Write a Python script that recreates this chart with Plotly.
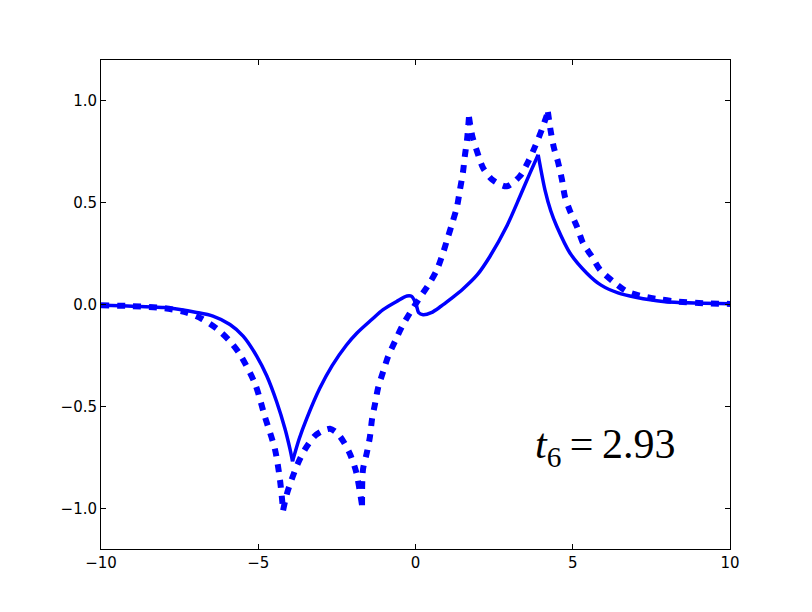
import plotly.graph_objects as go

# Solid curve
solid_x = [-10, -9, -8, -7.49, -7.0, -6.44, -5.9, -5.48, -5.05, -4.73, -4.41, -4.15, -3.99, -3.91,
           -3.7, -3.46, -3.04, -2.65, -2.2, -1.86, -1.4, -1.03, -0.6, -0.27, -0.12, 0.02,
           0.1, 0.24, 0.5, 0.8, 1.1, 1.5, 1.96, 2.37, 2.9, 3.32, 3.64, 3.9,
           4.12, 4.3, 4.49, 4.91, 5.44, 5.9, 6.44, 7.0, 7.87, 9.0, 10]
solid_y = [-0.004, -0.008, -0.015, -0.025, -0.038, -0.057, -0.098, -0.155, -0.253, -0.35, -0.48, -0.61, -0.71, -0.77,
           -0.66, -0.56, -0.41, -0.30, -0.20, -0.14, -0.075, -0.025, 0.015, 0.042, 0.04, 0.0,
           -0.04, -0.05, -0.04, -0.01, 0.025, 0.075, 0.145, 0.237, 0.384, 0.53, 0.645, 0.735,
           0.56, 0.46, 0.384, 0.253, 0.155, 0.095, 0.057, 0.036, 0.015, 0.007, 0.004]
solid_cusps = [-3.91, 3.9]

# Dotted curve
dot_x = [-10, -9, -8, -7.27, -6.8, -6.31, -5.9, -5.58, -5.1, -4.79, -4.47, -4.31, -4.21,
         -4.09, -3.94, -3.74, -3.51, -3.2, -2.95, -2.72, -2.5, -2.3, -2.08, -1.89, -1.70,
         -1.67, -1.55, -1.45, -1.38, -1.29, -1.19, -1.03, -0.87, -0.65, -0.43, -0.17, 0.14,
         0.46, 0.68, 0.87, 1.03, 1.19, 1.32, 1.41, 1.51, 1.57, 1.64, 1.70, 1.80, 1.96, 2.15,
         2.46, 2.9, 3.32, 3.58, 3.8, 4.02, 4.21, 4.3, 4.4, 4.53, 4.66, 4.75, 4.91, 5.14, 5.33,
         5.61, 5.87, 6.28, 6.72, 7.23, 7.77, 8.3, 9.36, 10]
dot_y = [-0.004, -0.008, -0.018, -0.04, -0.07, -0.12, -0.18, -0.245, -0.39, -0.55, -0.71, -0.86, -1.01,
         -0.93, -0.86, -0.78, -0.71, -0.645, -0.62, -0.61, -0.63, -0.67, -0.735, -0.82, -0.985,
         -0.81, -0.73, -0.65, -0.56, -0.49, -0.41, -0.33, -0.255, -0.18, -0.108, -0.04, 0.034,
         0.108, 0.17, 0.25, 0.33, 0.41, 0.48, 0.56, 0.65, 0.73, 0.81, 0.92, 0.83, 0.75, 0.67,
         0.61, 0.58, 0.63, 0.70, 0.775, 0.86, 0.945, 0.85, 0.77, 0.70, 0.61, 0.53, 0.46, 0.38, 0.30,
         0.235, 0.17, 0.113, 0.064, 0.04, 0.025, 0.015, 0.005, 0.003]
dot_cusps = [-4.21, -1.70, 1.70, 4.21]

x_ticks = [-10, -5, 0, 5, 10]
y_ticks = [-1.0, -0.5, 0.0, 0.5, 1.0]
label_text = "<i>t</i><sub>6</sub>\u2009=\u20092.93"
label_x, label_y = 6.01, -0.70


def segments(xs, ys, cusps):
    """Split a series at its cusp points (cusp point shared by both sides)."""
    segs, cur_x, cur_y = [], [], []
    for x, y in zip(xs, ys):
        cur_x.append(x)
        cur_y.append(y)
        if x in cusps:
            segs.append((cur_x, cur_y))
            cur_x, cur_y = [x], [y]
    segs.append((cur_x, cur_y))
    return segs


fig = go.Figure()
for sx, sy in segments(dot_x, dot_y, dot_cusps):
    fig.add_trace(go.Scatter(x=sx, y=sy, mode="lines",
                             line=dict(color="#0000ff", width=6, dash="8px,8px",
                                       shape="spline", smoothing=0.8),
                             showlegend=False, hoverinfo="skip"))
for sx, sy in segments(solid_x, solid_y, solid_cusps):
    fig.add_trace(go.Scatter(x=sx, y=sy, mode="lines",
                             line=dict(color="#0000ff", width=3.5,
                                       shape="spline", smoothing=0.8),
                             showlegend=False, hoverinfo="skip"))

fig.add_annotation(x=label_x, y=label_y, text=label_text, showarrow=False,
                   font=dict(family="Liberation Serif", size=42, color="black"),
                   xanchor="center", yanchor="middle")

axis_common = dict(showgrid=False, zeroline=False, showline=True, linecolor="black",
                   linewidth=1, mirror="ticks", ticks="inside", ticklen=5,
                   tickcolor="black", tickwidth=1,
                   tickfont=dict(family="DejaVu Sans", size=15, color="black"))

fig.update_xaxes(range=[-10, 10], tickvals=x_ticks,
                 ticktext=[str(v).replace("-", "\u2212") for v in x_ticks], **axis_common)
fig.update_yaxes(range=[-1.2, 1.2], tickvals=y_ticks,
                 ticktext=[f"{v:.1f}".replace("-", "\u2212") for v in y_ticks], **axis_common)

fig.update_layout(width=804, height=604, margin=dict(l=93, r=82, t=52, b=63),
                  paper_bgcolor="white", plot_bgcolor="white")

fig.write_html("out.html")
